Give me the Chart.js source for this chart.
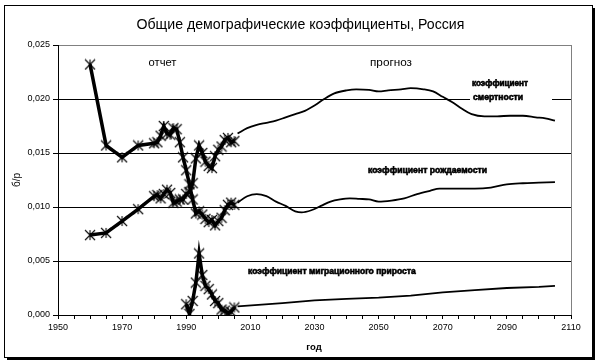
<!DOCTYPE html>
<html><head><meta charset="utf-8">
<script src="https://cdn.jsdelivr.net/npm/chart.js@4/dist/chart.umd.min.js"></script>
<style>html,body{margin:0;padding:0;background:#fff;overflow:hidden}canvas{display:block}</style>
</head><body>
<canvas id="c" width="600" height="364"></canvas>
<script>
// ---- data ----
const titleText = 'Общие демографические коэффициенты, Россия';
const xTitle = 'год';
const yTitle = 'б/р';
const xTickLabels = [1950,1970,1990,2010,2030,2050,2070,2090,2110];
const yTickValues = [0,0.005,0.010,0.015,0.020,0.025];

const obsYears = [1960,1965,1970,1975,1980,1981,1982,1983,1984,1985,1986,1987,1988,1989,1990,1991,1992,1993,1994,1995,1996,1997,1998,1999,2000,2001,2002,2003,2004,2005];
const birthObs = [0.0232,0.0157,0.0146,0.0157,0.0159,0.0160,0.0166,0.0175,0.0168,0.0167,0.0173,0.0172,0.0160,0.0146,0.0134,0.0121,0.0107,0.0094,0.0096,0.0093,0.0089,0.0086,0.0088,0.0083,0.0087,0.0090,0.0097,0.0102,0.0104,0.0102];
const deathObs = [0.0074,0.0076,0.0087,0.0098,0.0110,0.0111,0.0108,0.0112,0.0116,0.0113,0.0104,0.0105,0.0107,0.0107,0.0112,0.0114,0.0122,0.0145,0.0157,0.0150,0.0142,0.0138,0.0136,0.0147,0.0153,0.0156,0.0162,0.0164,0.0160,0.0161];

const migYears = [1990,1991,1992,1993,1994,1995,1996,1997,1998,1999,2000,2001,2002,2003,2004,2005];
const migObs = [0.0010,0.0001,0.0013,0.0030,0.0057,0.0037,0.0027,0.0024,0.0019,0.0013,0.0011,0.0005,0.0004,0.0002,0.0003,0.0007];

const fcDeathYears = [2006,2009,2012,2015,2018,2021,2024,2027,2030,2033,2036,2040,2043,2047,2050,2053,2057,2060,2064,2067,2070,2073,2076,2079,2083,2087,2091,2095,2099,2102,2105];
const fcDeath = [0.0168,0.0173,0.0176,0.0178,0.0180,0.0183,0.0186,0.0189,0.0194,0.0200,0.0205,0.0208,0.0209,0.02085,0.0207,0.0208,0.0209,0.0210,0.0209,0.0207,0.0202,0.0197,0.0191,0.0186,0.0184,0.0184,0.01845,0.01845,0.0183,0.0182,0.0180];

const fcBirthYears = [2006,2009,2012,2015,2018,2021,2024,2026,2029,2032,2035,2038,2041,2044,2047,2050,2054,2058,2062,2066,2069,2074,2080,2085,2090,2095,2100,2105];
const fcBirth = [0.0104,0.0110,0.0112,0.0110,0.0105,0.0101,0.0096,0.0095,0.0097,0.0101,0.0105,0.0107,0.0108,0.01075,0.0107,0.0105,0.0106,0.0108,0.0112,0.0115,0.0117,0.0117,0.0117,0.0118,0.0121,0.0122,0.01225,0.0123];

const fcMigYears = [2006,2020,2030,2040,2050,2060,2070,2080,2090,2100,2105];
const fcMig = [0.0008,0.0011,0.00135,0.0015,0.0016,0.0018,0.0021,0.0023,0.0025,0.0026,0.0027];

const labelReport = 'отчет';
const labelForecast = 'прогноз';
const labelDeath1 = 'коэффициент';
const labelDeath2 = 'смертности';
const labelBirth = 'коэффициент рождаемости';
const labelMig = 'коэффициент миграционного прироста';

// ---- helpers ----
const FONT = '"Liberation Sans", Arial, sans-serif';
const pts = (xs, ys) => xs.map((x, i) => ({x: x, y: ys[i]}));

const star = document.createElement('canvas');
star.width = 12; star.height = 12;
(function(){
  const g = star.getContext('2d');
  g.strokeStyle = '#000'; g.lineWidth = 1.1;
  g.beginPath();
  g.moveTo(1,1); g.lineTo(11,11);
  g.moveTo(11,1); g.lineTo(1,11);
  g.moveTo(6,1); g.lineTo(6,11);
  g.stroke();
})();

function fitText(ctx, text, left, cy, width, weight, heavy) {
  ctx.font = weight + ' 10px ' + FONT;
  const w = ctx.measureText(text).width;
  const size = 10 * width / w;
  ctx.font = weight + ' ' + size.toFixed(2) + 'px ' + FONT;
  ctx.textAlign = 'left';
  ctx.textBaseline = 'middle';
  ctx.fillText(text, left, cy);
  if (heavy) {
    ctx.lineWidth = 0.6;
    ctx.strokeStyle = '#000';
    ctx.strokeText(text, left, cy);
  }
}

const decor = {
  id: 'decor',
  afterDraw(chart) {
    const ctx = chart.ctx;
    const a = chart.chartArea;
    ctx.save();
    // right gray border of plot area
    ctx.strokeStyle = '#808080'; ctx.lineWidth = 1;
    ctx.beginPath();
    ctx.moveTo(Math.round(a.right) + 0.5, a.top);
    ctx.lineTo(Math.round(a.right) + 0.5, a.bottom);
    ctx.stroke();

    ctx.fillStyle = '#000';
    // title
    fitText(ctx, titleText, 136.5, 25, 328, 'normal', false);
    // report / forecast
    fitText(ctx, labelReport, 148.5, 62.5, 28, 'normal', false);
    fitText(ctx, labelForecast, 370, 62.5, 42, 'normal', false);

    // white box behind mortality label
    ctx.fillStyle = '#fff';
    ctx.fillRect(470, 76, 82, 29);
    ctx.fillStyle = '#000';
    fitText(ctx, labelDeath1, 472, 83.5, 56, 'bold', true);
    fitText(ctx, labelDeath2, 473, 98, 50, 'bold', true);
    fitText(ctx, labelBirth, 368, 171, 119, 'bold', true);
    fitText(ctx, labelMig, 248, 272, 168, 'bold', true);

    // axis titles
    ctx.font = 'bold 9.5px ' + FONT;
    ctx.textAlign = 'center'; ctx.textBaseline = 'middle';
    ctx.fillText(xTitle, 314, 347);
    ctx.save();
    ctx.translate(17.5, 180);
    ctx.rotate(-Math.PI / 2);
    ctx.font = '10px ' + FONT;
    ctx.fillText(yTitle, 0, 0);
    ctx.restore();

    // outer frame with shadow
    ctx.strokeStyle = '#000'; ctx.lineWidth = 1;
    ctx.strokeRect(4.5, 5.5, 588, 352);
    ctx.fillRect(593, 8, 2, 352);
    ctx.fillRect(7, 358, 588, 2);
    ctx.restore();
  }
};

const obsStyle = {
  borderColor: '#000', borderWidth: 3.5, tension: 0,
  pointStyle: star, pointRadius: 5, pointBackgroundColor: '#000', pointBorderColor: '#000'
};
const fcStyle = {
  borderColor: '#000', borderWidth: 1.8, pointRadius: 0,
  cubicInterpolationMode: 'monotone'
};

new Chart(document.getElementById('c'), {
  type: 'line',
  data: {
    datasets: [
      Object.assign({label: 'birth', data: pts(obsYears, birthObs)}, obsStyle),
      Object.assign({label: 'death', data: pts(obsYears, deathObs)}, obsStyle),
      Object.assign({label: 'migration', data: pts(migYears, migObs)}, obsStyle),
      Object.assign({label: 'death forecast', data: pts(fcDeathYears, fcDeath)}, fcStyle),
      Object.assign({label: 'birth forecast', data: pts(fcBirthYears, fcBirth)}, fcStyle),
      Object.assign({label: 'migration forecast', data: pts(fcMigYears, fcMig)}, fcStyle, {cubicInterpolationMode: 'default', tension: 0})
    ]
  },
  options: {
    responsive: false,
    animation: false,
    devicePixelRatio: 1,
    layout: {padding: {top: 45, right: 29, bottom: 0, left: 0}},
    plugins: {legend: {display: false}, title: {display: false}, tooltip: {enabled: false}},
    events: [],
    scales: {
      x: {
        type: 'linear', min: 1950, max: 2110,
        afterFit: s => { s.height = 49; },
        ticks: {
          stepSize: 5, autoSkip: false, maxRotation: 0, padding: 3,
          color: '#000', font: {family: FONT, size: 9},
          callback: v => xTickLabels.includes(v) ? String(v) : ''
        },
        grid: {drawOnChartArea: false, drawTicks: true, tickLength: 4, tickColor: '#000', color: '#000'},
        border: {display: true, color: '#000', width: 1}
      },
      y: {
        min: 0, max: 0.025,
        afterFit: s => { s.width = 58; },
        afterBuildTicks: s => { s.ticks = yTickValues.map(v => ({value: v})); },
        ticks: {
          padding: 3, color: '#000', font: {family: FONT, size: 9},
          callback: v => Number(v).toFixed(3).replace('.', ',')
        },
        grid: {
          drawTicks: true, tickLength: 5, tickColor: '#000', lineWidth: 1,
          color: c => (c.tick && c.tick.value >= 0.0249) ? '#808080' : '#000'
        },
        border: {display: true, color: '#000', width: 1}
      }
    }
  },
  plugins: [decor]
});
</script>
</body></html>
